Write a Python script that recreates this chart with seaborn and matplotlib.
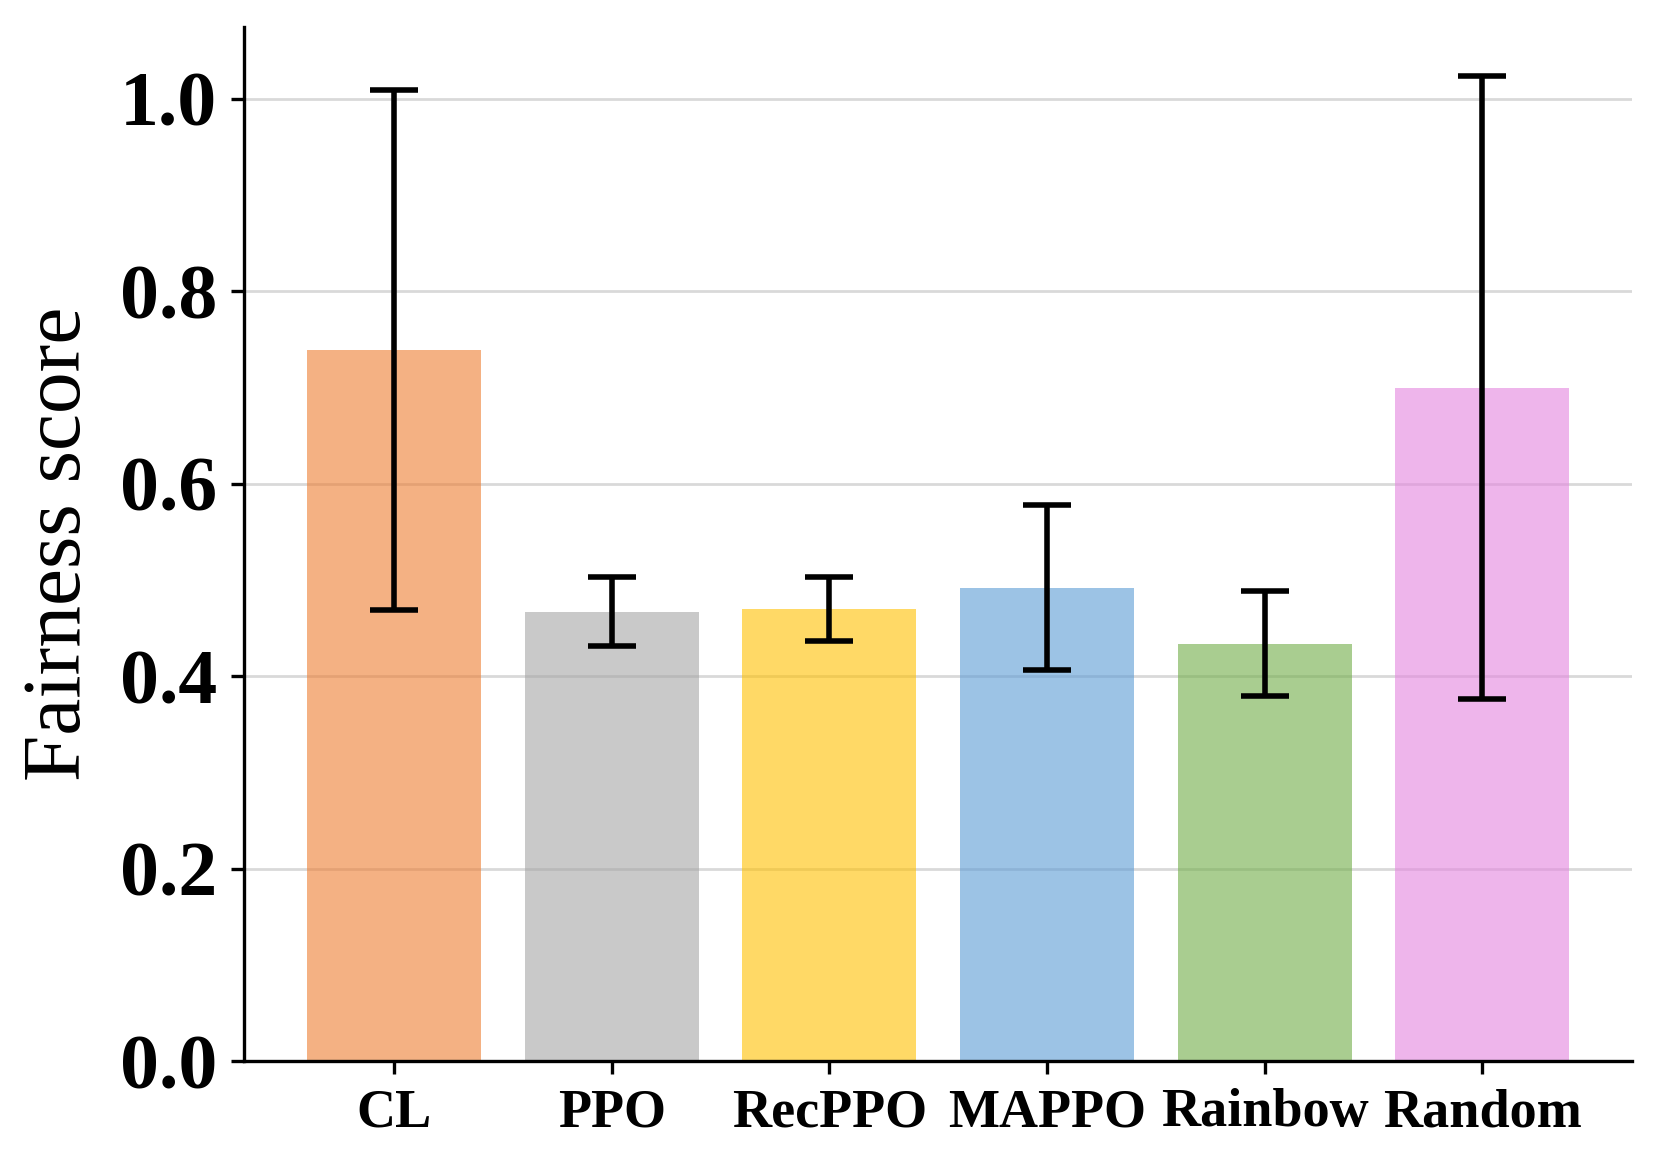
import matplotlib
matplotlib.use("Agg")
import matplotlib.pyplot as plt
import seaborn as sns

# Values
methods = ["CL", "PPO", "RecPPO", "MAPPO", "Rainbow", "Random"]
means = [0.739, 0.467, 0.470, 0.492, 0.434, 0.700]
errors = [0.270, 0.036, 0.033, 0.086, 0.055, 0.324]
colors = ["#ED7D31", "#A5A5A5", "#FFC000", "#5B9BD5", "#70AD47", "#E485DF"]

sns.set_style("ticks")
plt.rcParams["font.family"] = ["Liberation Serif", "DejaVu Serif"]
plt.rcParams["text.color"] = "black"
plt.rcParams["axes.labelcolor"] = "black"

fig, ax = plt.subplots(figsize=(8.295, 5.83), dpi=200)
fig.subplots_adjust(left=0.147, right=0.984, top=0.977, bottom=0.090)

ax.grid(axis="y", color="#d9d9d9", linewidth=1.0, zorder=0)
ax.set_axisbelow(True)

sns.barplot(
    x=methods,
    y=means,
    hue=methods,
    palette=colors,
    saturation=1,
    alpha=0.6,
    width=0.8,
    linewidth=0,
    legend=False,
    ax=ax,
    zorder=2,
)
ax.errorbar(
    range(len(methods)),
    means,
    yerr=errors,
    fmt="none",
    ecolor="black",
    elinewidth=2.0,
    capsize=8.5,
    capthick=2.0,
    zorder=3,
)

ax.set_xlim(-0.69, 5.69)
ax.set_ylim(0, 1.075)
ax.set_yticks([0.0, 0.2, 0.4, 0.6, 0.8, 1.0])
ax.set_yticklabels(["0.0", "0.2", "0.4", "0.6", "0.8", "1.0"])

ax.set_ylabel("Fairness score", fontsize=30, color="black")
ax.yaxis.set_label_coords(-0.105, 0.5)
ax.set_xlabel("")

for lab in ax.get_yticklabels():
    lab.set_fontsize(28)
    lab.set_fontweight("bold")
for lab in ax.get_xticklabels():
    lab.set_fontsize(19.5)
    lab.set_fontweight("bold")

ax.tick_params(axis="both", direction="out", length=4.7, width=1.2,
               colors="black", labelcolor="black")
ax.tick_params(axis="y", pad=5)
ax.tick_params(axis="x", pad=5)

sns.despine(ax=ax)
for side in ["left", "bottom"]:
    ax.spines[side].set_linewidth(1.2)
    ax.spines[side].set_color("black")

fig.savefig("out.png", dpi=200)
